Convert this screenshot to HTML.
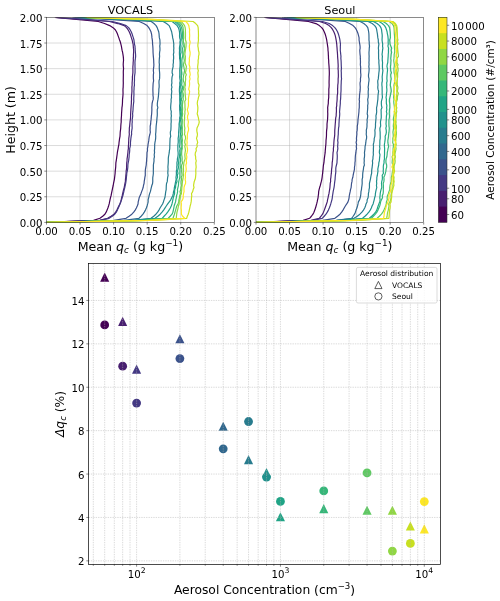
<!DOCTYPE html>
<html lang="en"><head><meta charset="utf-8"><title>Aerosol concentration figure</title>
<style>html,body{margin:0;padding:0;background:#fff}svg{display:block}text{white-space:pre}</style>
</head><body>
<svg width="500" height="601" viewBox="0 0 500 601" font-family='"DejaVu Sans", "Liberation Sans", sans-serif'>
<rect width="500" height="601" fill="#ffffff"/>
<path d="M80.06 17.40 V222.40 M113.62 17.40 V222.40 M147.18 17.40 V222.40 M180.74 17.40 V222.40 M46.50 43.02 H214.30 M46.50 68.65 H214.30 M46.50 94.28 H214.30 M46.50 119.90 H214.30 M46.50 145.53 H214.30 M46.50 171.15 H214.30 M46.50 196.78 H214.30" stroke="#b0b0b0" stroke-width="0.6" fill="none" opacity="0.75"/>
<clipPath id="clip1"><rect x="46.50" y="17.40" width="167.80" height="205.00"/></clipPath>
<g clip-path="url(#clip1)" fill="none" stroke-width="1.2" stroke-linejoin="round" stroke-linecap="butt">
<path d="M54.80 17.40 L76.54 19.45 L98.30 21.50 L104.57 23.55 L109.71 25.60 L113.05 27.65 L115.26 29.70 L116.47 31.75 L117.39 33.80 L118.11 35.85 L118.87 37.90 L119.58 39.95 L120.35 42.00 L120.88 44.05 L121.37 46.10 L121.71 48.15 L122.05 50.20 L122.59 52.25 L122.94 54.30 L123.26 56.35 L123.44 58.40 L123.52 60.45 L123.33 62.50 L123.21 64.55 L123.34 66.60 L123.56 68.65 L123.33 70.70 L123.30 72.75 L123.35 74.80 L123.31 76.85 L123.28 78.90 L123.24 80.95 L123.30 83.00 L123.23 85.05 L123.18 87.10 L122.99 89.15 L123.00 91.20 L123.06 93.25 L122.96 95.30 L122.78 97.35 L122.55 99.40 L122.50 101.45 L122.43 103.50 L122.27 105.55 L121.95 107.60 L121.83 109.65 L121.68 111.70 L121.54 113.75 L121.50 115.80 L121.30 117.85 L121.19 119.90 L121.20 121.95 L120.96 124.00 L120.81 126.05 L120.72 128.10 L120.49 130.15 L120.22 132.20 L120.12 134.25 L120.00 136.30 L119.59 138.35 L119.34 140.40 L119.05 142.45 L118.89 144.50 L118.41 146.55 L118.10 148.60 L117.68 150.65 L117.34 152.70 L117.09 154.75 L116.79 156.80 L116.52 158.85 L116.21 160.90 L115.87 162.95 L115.79 165.00 L115.72 167.05 L115.47 169.10 L115.22 171.15 L115.12 173.20 L114.89 175.25 L114.63 177.30 L114.40 179.35 L113.97 181.40 L113.54 183.45 L113.19 185.50 L112.69 187.55 L112.29 189.60 L111.88 191.65 L111.47 193.70 L111.03 195.75 L110.43 197.80 L110.01 199.85 L109.59 201.90 L109.17 203.95 L108.56 206.00 L107.87 208.05 L107.10 210.10 L106.13 212.15 L104.90 214.20 L102.66 216.25 L99.94 218.30 L93.58 220.35 L46.50 222.40" stroke="#440154"/>
<path d="M56.00 17.40 L83.31 19.45 L109.35 21.50 L117.98 23.55 L124.21 25.60 L126.56 27.65 L128.03 29.70 L129.21 31.75 L130.07 33.80 L130.81 35.85 L131.43 37.90 L132.14 39.95 L132.57 42.00 L133.10 44.05 L133.28 46.10 L133.43 48.15 L133.65 50.20 L133.66 52.25 L133.46 54.30 L133.48 56.35 L133.29 58.40 L133.35 60.45 L133.15 62.50 L133.09 64.55 L132.89 66.60 L132.86 68.65 L132.91 70.70 L132.89 72.75 L132.65 74.80 L132.39 76.85 L132.42 78.90 L132.25 80.95 L132.10 83.00 L132.13 85.05 L131.89 87.10 L131.94 89.15 L131.95 91.20 L131.80 93.25 L131.56 95.30 L131.45 97.35 L131.52 99.40 L131.38 101.45 L131.36 103.50 L131.17 105.55 L131.02 107.60 L130.89 109.65 L130.75 111.70 L130.64 113.75 L130.58 115.80 L130.53 117.85 L130.30 119.90 L130.02 121.95 L129.83 124.00 L129.64 126.05 L129.34 128.10 L129.34 130.15 L129.19 132.20 L129.33 134.25 L129.09 136.30 L128.79 138.35 L128.75 140.40 L128.61 142.45 L128.55 144.50 L128.37 146.55 L128.38 148.60 L128.04 150.65 L127.87 152.70 L127.62 154.75 L127.39 156.80 L127.06 158.85 L127.04 160.90 L126.71 162.95 L126.67 165.00 L126.60 167.05 L126.49 169.10 L126.14 171.15 L126.11 173.20 L125.85 175.25 L125.71 177.30 L125.44 179.35 L125.41 181.40 L124.96 183.45 L124.56 185.50 L124.19 187.55 L123.58 189.60 L123.12 191.65 L122.65 193.70 L122.20 195.75 L121.61 197.80 L121.21 199.85 L120.66 201.90 L119.90 203.95 L118.78 206.00 L117.85 208.05 L116.88 210.10 L115.66 212.15 L114.00 214.20 L111.04 216.25 L107.56 218.30 L99.52 220.35 L46.50 222.40" stroke="#481f70"/>
<path d="M57.00 17.40 L85.96 19.45 L112.38 21.50 L120.42 23.55 L126.22 25.60 L128.63 27.65 L130.09 29.70 L131.22 31.75 L132.03 33.80 L132.70 35.85 L133.38 37.90 L133.95 39.95 L134.22 42.00 L134.47 44.05 L135.00 46.10 L135.08 48.15 L135.22 50.20 L135.38 52.25 L135.55 54.30 L135.62 56.35 L135.40 58.40 L135.12 60.45 L134.95 62.50 L135.01 64.55 L134.99 66.60 L135.08 68.65 L135.06 70.70 L135.05 72.75 L134.73 74.80 L134.49 76.85 L134.47 78.90 L134.49 80.95 L134.30 83.00 L134.44 85.05 L134.08 87.10 L134.05 89.15 L133.88 91.20 L133.93 93.25 L133.93 95.30 L133.78 97.35 L133.74 99.40 L133.81 101.45 L133.54 103.50 L133.32 105.55 L133.12 107.60 L133.04 109.65 L132.85 111.70 L132.59 113.75 L132.72 115.80 L132.48 117.85 L132.14 119.90 L132.26 121.95 L132.04 124.00 L132.09 126.05 L132.14 128.10 L131.82 130.15 L131.54 132.20 L131.62 134.25 L131.18 136.30 L130.90 138.35 L130.68 140.40 L130.45 142.45 L130.48 144.50 L130.20 146.55 L129.68 148.60 L129.71 150.65 L129.50 152.70 L129.16 154.75 L129.12 156.80 L128.87 158.85 L128.60 160.90 L128.15 162.95 L127.88 165.00 L127.85 167.05 L127.61 169.10 L127.26 171.15 L126.79 173.20 L126.65 175.25 L126.41 177.30 L126.25 179.35 L125.96 181.40 L125.66 183.45 L125.20 185.50 L124.79 187.55 L124.24 189.60 L123.82 191.65 L123.35 193.70 L122.84 195.75 L122.12 197.80 L121.56 199.85 L120.82 201.90 L119.91 203.95 L119.18 206.00 L118.31 208.05 L117.33 210.10 L116.26 212.15 L114.76 214.20 L112.18 216.25 L109.07 218.30 L100.15 220.35 L46.50 222.40" stroke="#443983"/>
<path d="M72.50 17.40 L108.18 19.45 L139.25 21.50 L143.70 23.55 L147.10 25.60 L148.78 27.65 L150.01 29.70 L150.97 31.75 L151.51 33.80 L151.80 35.85 L151.98 37.90 L152.32 39.95 L152.52 42.00 L152.57 44.05 L152.79 46.10 L152.92 48.15 L153.01 50.20 L153.05 52.25 L153.17 54.30 L153.34 56.35 L153.54 58.40 L153.69 60.45 L153.74 62.50 L153.87 64.55 L153.78 66.60 L153.50 68.65 L153.34 70.70 L153.63 72.75 L153.37 74.80 L153.34 76.85 L153.43 78.90 L153.61 80.95 L153.18 83.00 L153.04 85.05 L152.96 87.10 L152.88 89.15 L152.91 91.20 L153.01 93.25 L152.98 95.30 L153.27 97.35 L153.18 99.40 L152.57 101.45 L152.11 103.50 L151.97 105.55 L151.81 107.60 L151.88 109.65 L151.77 111.70 L151.67 113.75 L151.39 115.80 L151.23 117.85 L151.04 119.90 L150.76 121.95 L150.65 124.00 L150.17 126.05 L150.21 128.10 L150.10 130.15 L150.35 132.20 L149.92 134.25 L149.31 136.30 L149.00 138.35 L148.77 140.40 L148.43 142.45 L148.04 144.50 L147.83 146.55 L147.42 148.60 L147.50 150.65 L146.99 152.70 L146.94 154.75 L146.88 156.80 L146.67 158.85 L146.62 160.90 L146.36 162.95 L146.23 165.00 L145.82 167.05 L145.46 169.10 L145.30 171.15 L145.26 173.20 L145.30 175.25 L144.86 177.30 L144.58 179.35 L144.23 181.40 L144.07 183.45 L143.48 185.50 L143.14 187.55 L142.42 189.60 L141.64 191.65 L140.90 193.70 L140.04 195.75 L139.15 197.80 L138.73 199.85 L138.19 201.90 L138.04 203.95 L137.23 206.00 L136.35 208.05 L135.18 210.10 L133.71 212.15 L131.84 214.20 L129.06 216.25 L126.01 218.30 L113.88 220.35 L46.50 222.40" stroke="#3b528b"/>
<path d="M74.50 17.40 L116.39 19.45 L151.24 21.50 L153.94 23.55 L156.09 25.60 L157.21 27.65 L157.97 29.70 L158.71 31.75 L159.05 33.80 L159.18 35.85 L159.37 37.90 L159.90 39.95 L159.99 42.00 L160.04 44.05 L159.75 46.10 L159.94 48.15 L159.97 50.20 L159.62 52.25 L159.47 54.30 L159.61 56.35 L159.38 58.40 L159.25 60.45 L159.16 62.50 L159.40 64.55 L159.27 66.60 L159.29 68.65 L159.43 70.70 L159.62 72.75 L159.70 74.80 L159.66 76.85 L159.57 78.90 L159.02 80.95 L159.00 83.00 L159.14 85.05 L159.14 87.10 L158.85 89.15 L158.83 91.20 L158.63 93.25 L158.50 95.30 L158.28 97.35 L157.97 99.40 L157.59 101.45 L157.34 103.50 L157.31 105.55 L157.86 107.60 L157.25 109.65 L157.25 111.70 L157.30 113.75 L157.24 115.80 L157.00 117.85 L156.83 119.90 L156.68 121.95 L156.40 124.00 L156.17 126.05 L156.05 128.10 L155.94 130.15 L155.86 132.20 L155.58 134.25 L155.73 136.30 L155.65 138.35 L155.38 140.40 L154.97 142.45 L154.70 144.50 L154.66 146.55 L154.62 148.60 L154.41 150.65 L154.57 152.70 L154.20 154.75 L154.43 156.80 L153.95 158.85 L154.04 160.90 L153.73 162.95 L153.38 165.00 L153.40 167.05 L153.37 169.10 L153.32 171.15 L153.36 173.20 L153.15 175.25 L152.81 177.30 L152.74 179.35 L152.78 181.40 L152.57 183.45 L151.83 185.50 L151.30 187.55 L150.84 189.60 L150.38 191.65 L149.57 193.70 L149.14 195.75 L148.64 197.80 L148.12 199.85 L148.16 201.90 L147.66 203.95 L147.06 206.00 L146.36 208.05 L145.41 210.10 L144.31 212.15 L142.98 214.20 L141.13 216.25 L139.04 218.30 L123.89 220.35 L46.50 222.40" stroke="#31688e"/>
<path d="M77.50 17.40 L125.32 19.45 L163.19 21.50 L166.52 23.55 L169.10 25.60 L170.11 27.65 L170.91 29.70 L171.64 31.75 L172.03 33.80 L172.44 35.85 L172.69 37.90 L173.21 39.95 L173.52 42.00 L173.80 44.05 L173.69 46.10 L173.84 48.15 L173.66 50.20 L173.84 52.25 L173.39 54.30 L173.60 56.35 L173.66 58.40 L173.36 60.45 L173.44 62.50 L173.06 64.55 L173.14 66.60 L172.63 68.65 L172.22 70.70 L172.11 72.75 L172.79 74.80 L172.07 76.85 L171.89 78.90 L171.76 80.95 L171.90 83.00 L171.46 85.05 L171.95 87.10 L171.38 89.15 L171.78 91.20 L171.60 93.25 L171.32 95.30 L171.52 97.35 L171.08 99.40 L171.16 101.45 L170.92 103.50 L170.75 105.55 L170.64 107.60 L170.82 109.65 L171.31 111.70 L171.13 113.75 L171.39 115.80 L171.08 117.85 L171.18 119.90 L171.21 121.95 L171.00 124.00 L171.05 126.05 L170.96 128.10 L170.88 130.15 L170.33 132.20 L170.39 134.25 L170.72 136.30 L170.05 138.35 L169.99 140.40 L169.91 142.45 L169.85 144.50 L169.80 146.55 L169.76 148.60 L169.40 150.65 L169.23 152.70 L168.86 154.75 L168.45 156.80 L168.29 158.85 L168.31 160.90 L168.24 162.95 L168.07 165.00 L167.90 167.05 L168.06 169.10 L167.90 171.15 L167.79 173.20 L168.12 175.25 L167.67 177.30 L167.44 179.35 L167.31 181.40 L166.54 183.45 L166.32 185.50 L166.23 187.55 L166.18 189.60 L165.74 191.65 L165.47 193.70 L165.19 195.75 L164.84 197.80 L164.04 199.85 L163.41 201.90 L162.57 203.95 L161.30 206.00 L160.03 208.05 L158.93 210.10 L157.63 212.15 L155.90 214.20 L153.72 216.25 L150.98 218.30 L132.80 220.35 L46.50 222.40" stroke="#287c8e"/>
<path d="M79.50 17.40 L132.30 19.45 L172.08 21.50 L174.72 23.55 L177.14 25.60 L178.35 27.65 L179.07 29.70 L179.44 31.75 L179.65 33.80 L179.53 35.85 L179.67 37.90 L180.32 39.95 L179.90 42.00 L180.04 44.05 L179.71 46.10 L179.42 48.15 L179.55 50.20 L179.44 52.25 L179.45 54.30 L179.60 56.35 L179.63 58.40 L179.98 60.45 L180.11 62.50 L180.09 64.55 L180.04 66.60 L179.80 68.65 L179.74 70.70 L179.79 72.75 L179.78 74.80 L179.67 76.85 L179.88 78.90 L180.21 80.95 L179.73 83.00 L179.84 85.05 L179.57 87.10 L179.43 89.15 L179.40 91.20 L179.57 93.25 L179.69 95.30 L179.79 97.35 L179.71 99.40 L179.86 101.45 L179.85 103.50 L179.59 105.55 L179.66 107.60 L179.70 109.65 L179.88 111.70 L180.00 113.75 L180.12 115.80 L179.65 117.85 L179.77 119.90 L179.43 121.95 L179.07 124.00 L179.14 126.05 L178.99 128.10 L178.83 130.15 L178.63 132.20 L178.68 134.25 L178.48 136.30 L178.12 138.35 L178.23 140.40 L178.22 142.45 L177.94 144.50 L177.84 146.55 L177.86 148.60 L177.89 150.65 L178.13 152.70 L178.13 154.75 L177.84 156.80 L177.39 158.85 L177.29 160.90 L176.91 162.95 L177.00 165.00 L176.76 167.05 L176.89 169.10 L176.33 171.15 L176.40 173.20 L176.33 175.25 L175.95 177.30 L176.16 179.35 L175.68 181.40 L175.26 183.45 L174.92 185.50 L174.36 187.55 L174.18 189.60 L173.56 191.65 L173.26 193.70 L172.73 195.75 L171.68 197.80 L170.75 199.85 L169.25 201.90 L167.72 203.95 L166.28 206.00 L164.91 208.05 L163.60 210.10 L162.03 212.15 L160.21 214.20 L157.84 216.25 L155.03 218.30 L134.93 220.35 L46.50 222.40" stroke="#21918c"/>
<path d="M81.50 17.40 L135.66 19.45 L174.61 21.50 L177.26 23.55 L179.24 25.60 L180.06 27.65 L180.50 29.70 L180.86 31.75 L181.19 33.80 L181.35 35.85 L181.21 37.90 L181.21 39.95 L180.77 42.00 L180.62 44.05 L180.96 46.10 L180.85 48.15 L180.84 50.20 L181.07 52.25 L180.51 54.30 L180.38 56.35 L180.61 58.40 L180.62 60.45 L180.69 62.50 L180.90 64.55 L181.11 66.60 L181.34 68.65 L181.33 70.70 L181.38 72.75 L181.24 74.80 L181.43 76.85 L181.38 78.90 L181.06 80.95 L180.81 83.00 L180.69 85.05 L180.74 87.10 L181.04 89.15 L181.09 91.20 L180.50 93.25 L180.59 95.30 L180.13 97.35 L180.39 99.40 L180.34 101.45 L180.57 103.50 L181.02 105.55 L180.55 107.60 L180.33 109.65 L180.90 111.70 L180.55 113.75 L181.02 115.80 L180.81 117.85 L180.54 119.90 L180.11 121.95 L179.80 124.00 L180.11 126.05 L180.51 128.10 L180.26 130.15 L180.19 132.20 L180.50 134.25 L180.16 136.30 L179.96 138.35 L179.77 140.40 L179.89 142.45 L179.88 144.50 L179.45 146.55 L180.20 148.60 L179.68 150.65 L179.87 152.70 L179.67 154.75 L179.45 156.80 L178.93 158.85 L178.75 160.90 L178.59 162.95 L178.14 165.00 L178.55 167.05 L178.07 169.10 L177.44 171.15 L178.00 173.20 L177.36 175.25 L177.57 177.30 L176.70 179.35 L177.01 181.40 L176.17 183.45 L175.66 185.50 L175.57 187.55 L174.71 189.60 L174.60 191.65 L174.57 193.70 L173.88 195.75 L173.23 197.80 L172.84 199.85 L172.45 201.90 L171.97 203.95 L171.22 206.00 L170.30 208.05 L169.00 210.10 L167.64 212.15 L166.07 214.20 L164.05 216.25 L162.16 218.30 L139.38 220.35 L46.50 222.40" stroke="#20a486"/>
<path d="M82.50 17.40 L138.33 19.45 L176.71 21.50 L179.03 23.55 L180.73 25.60 L181.53 27.65 L182.03 29.70 L182.36 31.75 L182.50 33.80 L182.49 35.85 L182.50 37.90 L183.17 39.95 L182.93 42.00 L182.89 44.05 L183.28 46.10 L182.61 48.15 L182.71 50.20 L182.72 52.25 L182.85 54.30 L182.61 56.35 L182.15 58.40 L181.86 60.45 L181.95 62.50 L181.98 64.55 L181.98 66.60 L181.52 68.65 L181.52 70.70 L181.87 72.75 L181.83 74.80 L181.06 76.85 L181.68 78.90 L181.78 80.95 L181.93 83.00 L181.64 85.05 L182.62 87.10 L182.33 89.15 L181.56 91.20 L181.81 93.25 L182.00 95.30 L181.90 97.35 L181.32 99.40 L181.98 101.45 L181.99 103.50 L182.29 105.55 L181.93 107.60 L181.70 109.65 L181.80 111.70 L181.62 113.75 L181.38 115.80 L181.31 117.85 L182.01 119.90 L181.98 121.95 L182.01 124.00 L181.29 126.05 L181.56 128.10 L181.92 130.15 L182.06 132.20 L182.24 134.25 L181.44 136.30 L181.00 138.35 L181.28 140.40 L181.45 142.45 L181.97 144.50 L181.92 146.55 L181.46 148.60 L181.11 150.65 L180.98 152.70 L180.55 154.75 L180.14 156.80 L180.60 158.85 L180.48 160.90 L180.05 162.95 L179.99 165.00 L180.26 167.05 L179.90 169.10 L179.87 171.15 L179.82 173.20 L179.85 175.25 L179.83 177.30 L179.24 179.35 L178.79 181.40 L178.52 183.45 L178.44 185.50 L177.91 187.55 L177.44 189.60 L177.61 191.65 L177.20 193.70 L176.58 195.75 L176.32 197.80 L175.83 199.85 L175.56 201.90 L174.79 203.95 L174.16 206.00 L173.80 208.05 L173.36 210.10 L172.89 212.15 L172.04 214.20 L170.14 216.25 L168.15 218.30 L142.89 220.35 L46.50 222.40" stroke="#35b779"/>
<path d="M84.50 17.40 L141.43 19.45 L178.58 21.50 L181.02 23.55 L182.55 25.60 L183.08 27.65 L183.16 29.70 L183.53 31.75 L183.60 33.80 L183.63 35.85 L183.72 37.90 L183.29 39.95 L183.39 42.00 L184.17 44.05 L184.35 46.10 L184.71 48.15 L184.63 50.20 L183.99 52.25 L183.76 54.30 L183.72 56.35 L183.97 58.40 L184.35 60.45 L184.01 62.50 L183.40 64.55 L183.83 66.60 L184.15 68.65 L184.59 70.70 L184.14 72.75 L183.72 74.80 L183.33 76.85 L183.23 78.90 L183.42 80.95 L184.27 83.00 L184.15 85.05 L183.58 87.10 L183.69 89.15 L182.60 91.20 L182.97 93.25 L183.52 95.30 L183.13 97.35 L183.24 99.40 L182.80 101.45 L182.57 103.50 L182.29 105.55 L182.52 107.60 L182.61 109.65 L182.31 111.70 L182.64 113.75 L182.36 115.80 L181.86 117.85 L182.30 119.90 L182.13 121.95 L181.78 124.00 L182.21 126.05 L182.38 128.10 L182.15 130.15 L181.94 132.20 L182.44 134.25 L181.96 136.30 L182.17 138.35 L182.47 140.40 L182.15 142.45 L182.03 144.50 L182.03 146.55 L182.31 148.60 L181.80 150.65 L181.70 152.70 L181.68 154.75 L182.05 156.80 L182.17 158.85 L182.04 160.90 L182.54 162.95 L181.68 165.00 L181.41 167.05 L181.76 169.10 L181.58 171.15 L181.86 173.20 L182.12 175.25 L181.23 177.30 L181.49 179.35 L181.09 181.40 L181.10 183.45 L181.48 185.50 L180.90 187.55 L180.78 189.60 L179.93 191.65 L180.42 193.70 L179.69 195.75 L179.41 197.80 L178.91 199.85 L178.75 201.90 L177.96 203.95 L176.74 206.00 L176.15 208.05 L175.61 210.10 L175.01 212.15 L174.46 214.20 L173.65 216.25 L173.02 218.30 L145.49 220.35 L46.50 222.40" stroke="#5ec962"/>
<path d="M85.50 17.40 L144.45 19.45 L181.18 21.50 L183.11 23.55 L184.58 25.60 L185.17 27.65 L185.39 29.70 L185.45 31.75 L185.45 33.80 L185.48 35.85 L185.43 37.90 L185.48 39.95 L186.16 42.00 L186.09 44.05 L186.06 46.10 L185.76 48.15 L185.40 50.20 L185.15 52.25 L184.90 54.30 L185.40 56.35 L185.32 58.40 L185.19 60.45 L185.07 62.50 L185.61 64.55 L186.44 66.60 L186.07 68.65 L185.95 70.70 L185.42 72.75 L186.33 74.80 L185.48 76.85 L185.69 78.90 L185.47 80.95 L185.27 83.00 L185.49 85.05 L184.80 87.10 L185.26 89.15 L184.99 91.20 L185.15 93.25 L185.31 95.30 L185.47 97.35 L185.76 99.40 L184.74 101.45 L184.92 103.50 L184.97 105.55 L184.98 107.60 L185.19 109.65 L184.86 111.70 L184.94 113.75 L184.52 115.80 L184.67 117.85 L184.42 119.90 L184.23 121.95 L184.31 124.00 L184.44 126.05 L184.87 128.10 L184.62 130.15 L184.80 132.20 L184.45 134.25 L185.39 136.30 L185.61 138.35 L184.91 140.40 L184.71 142.45 L185.37 144.50 L184.76 146.55 L185.25 148.60 L185.41 150.65 L185.05 152.70 L184.82 154.75 L184.96 156.80 L185.17 158.85 L184.32 160.90 L183.85 162.95 L183.70 165.00 L183.35 167.05 L183.48 169.10 L183.40 171.15 L183.24 173.20 L183.49 175.25 L183.17 177.30 L182.83 179.35 L182.49 181.40 L182.24 183.45 L182.13 185.50 L181.84 187.55 L181.72 189.60 L181.52 191.65 L181.36 193.70 L180.38 195.75 L180.20 197.80 L179.79 199.85 L179.16 201.90 L179.16 203.95 L178.41 206.00 L178.05 208.05 L177.57 210.10 L176.99 212.15 L176.68 214.20 L176.46 216.25 L176.25 218.30 L146.51 220.35 L46.50 222.40" stroke="#90d743"/>
<path d="M86.50 17.40 L153.49 19.45 L193.15 21.50 L195.70 23.55 L197.63 25.60 L198.17 27.65 L198.28 29.70 L198.42 31.75 L198.45 33.80 L198.49 35.85 L198.37 37.90 L198.48 39.95 L198.24 42.00 L197.93 44.05 L197.86 46.10 L198.26 48.15 L198.39 50.20 L198.96 52.25 L198.99 54.30 L198.50 56.35 L198.52 58.40 L198.09 60.45 L198.17 62.50 L197.91 64.55 L197.67 66.60 L197.71 68.65 L198.36 70.70 L197.81 72.75 L198.09 74.80 L198.23 76.85 L197.94 78.90 L198.09 80.95 L198.18 83.00 L199.11 85.05 L198.78 87.10 L198.48 89.15 L198.87 91.20 L198.63 93.25 L199.18 95.30 L198.47 97.35 L198.08 99.40 L197.47 101.45 L197.25 103.50 L197.61 105.55 L197.88 107.60 L197.78 109.65 L197.61 111.70 L197.19 113.75 L197.86 115.80 L198.44 117.85 L198.73 119.90 L199.28 121.95 L198.75 124.00 L197.96 126.05 L197.00 128.10 L196.78 130.15 L197.00 132.20 L197.47 134.25 L197.19 136.30 L196.50 138.35 L197.17 140.40 L197.69 142.45 L196.93 144.50 L197.23 146.55 L196.02 148.60 L196.30 150.65 L195.36 152.70 L195.17 154.75 L195.66 156.80 L195.66 158.85 L196.27 160.90 L195.75 162.95 L195.97 165.00 L196.17 167.05 L195.84 169.10 L195.75 171.15 L195.89 173.20 L195.72 175.25 L195.54 177.30 L195.16 179.35 L194.28 181.40 L193.90 183.45 L193.54 185.50 L194.04 187.55 L193.17 189.60 L192.66 191.65 L191.46 193.70 L191.79 195.75 L191.46 197.80 L191.38 199.85 L191.13 201.90 L190.73 203.95 L190.16 206.00 L189.73 208.05 L189.29 210.10 L188.86 212.15 L188.21 214.20 L187.33 216.25 L186.68 218.30 L153.09 220.35 L46.50 222.40" stroke="#c8e020"/>
<path d="M87.00 17.40 L150.41 19.45 L185.89 21.50 L187.75 23.55 L188.83 25.60 L189.19 27.65 L189.62 29.70 L189.49 31.75 L189.58 33.80 L189.66 35.85 L189.51 37.90 L189.54 39.95 L190.20 42.00 L189.79 44.05 L189.32 46.10 L189.48 48.15 L189.58 50.20 L190.11 52.25 L190.09 54.30 L189.74 56.35 L189.27 58.40 L189.46 60.45 L189.21 62.50 L189.10 64.55 L189.80 66.60 L189.89 68.65 L189.48 70.70 L190.00 72.75 L190.20 74.80 L189.54 76.85 L190.08 78.90 L189.36 80.95 L189.59 83.00 L189.54 85.05 L189.13 87.10 L188.71 89.15 L189.61 91.20 L189.39 93.25 L188.95 95.30 L188.56 97.35 L188.42 99.40 L188.52 101.45 L188.38 103.50 L188.42 105.55 L187.98 107.60 L187.34 109.65 L187.86 111.70 L188.39 113.75 L187.61 115.80 L187.48 117.85 L187.97 119.90 L188.40 121.95 L188.07 124.00 L187.88 126.05 L188.53 128.10 L188.55 130.15 L187.85 132.20 L187.42 134.25 L187.32 136.30 L187.36 138.35 L186.92 140.40 L187.16 142.45 L186.95 144.50 L187.02 146.55 L187.50 148.60 L187.50 150.65 L187.05 152.70 L186.36 154.75 L186.86 156.80 L186.60 158.85 L186.28 160.90 L186.57 162.95 L185.87 165.00 L186.02 167.05 L186.22 169.10 L186.05 171.15 L185.42 173.20 L185.30 175.25 L185.50 177.30 L185.12 179.35 L185.58 181.40 L185.53 183.45 L184.57 185.50 L184.01 187.55 L183.98 189.60 L184.07 191.65 L183.52 193.70 L183.24 195.75 L183.22 197.80 L182.55 199.85 L181.01 201.90 L181.38 203.95 L181.26 206.00 L181.10 208.05 L181.40 210.10 L181.36 212.15 L181.39 214.20 L182.63 216.25 L184.69 218.30 L150.07 220.35 L46.50 222.40" stroke="#fde725"/>
</g>
<path d="M46.50 222.40 v2.2 M80.06 222.40 v2.2 M113.62 222.40 v2.2 M147.18 222.40 v2.2 M180.74 222.40 v2.2 M214.30 222.40 v2.2 M46.50 17.40 h-2.2 M46.50 43.02 h-2.2 M46.50 68.65 h-2.2 M46.50 94.28 h-2.2 M46.50 119.90 h-2.2 M46.50 145.53 h-2.2 M46.50 171.15 h-2.2 M46.50 196.78 h-2.2 M46.50 222.40 h-2.2" stroke="#2b2b2b" stroke-width="0.55" fill="none"/>
<rect x="46.50" y="17.40" width="167.80" height="205.00" fill="none" stroke="#2b2b2b" stroke-width="0.55"/>
<text x="46.50" y="234.70" font-size="10.20" text-anchor="middle" fill="#000000">0.00</text>
<text x="80.06" y="234.70" font-size="10.20" text-anchor="middle" fill="#000000">0.05</text>
<text x="113.62" y="234.70" font-size="10.20" text-anchor="middle" fill="#000000">0.10</text>
<text x="147.18" y="234.70" font-size="10.20" text-anchor="middle" fill="#000000">0.15</text>
<text x="180.74" y="234.70" font-size="10.20" text-anchor="middle" fill="#000000">0.20</text>
<text x="214.30" y="234.70" font-size="10.20" text-anchor="middle" fill="#000000">0.25</text>
<text x="42.50" y="21.90" font-size="10.20" text-anchor="end" fill="#000000">2.00</text>
<text x="42.50" y="47.52" font-size="10.20" text-anchor="end" fill="#000000">1.75</text>
<text x="42.50" y="73.15" font-size="10.20" text-anchor="end" fill="#000000">1.50</text>
<text x="42.50" y="98.78" font-size="10.20" text-anchor="end" fill="#000000">1.25</text>
<text x="42.50" y="124.40" font-size="10.20" text-anchor="end" fill="#000000">1.00</text>
<text x="42.50" y="150.03" font-size="10.20" text-anchor="end" fill="#000000">0.75</text>
<text x="42.50" y="175.65" font-size="10.20" text-anchor="end" fill="#000000">0.50</text>
<text x="42.50" y="201.28" font-size="10.20" text-anchor="end" fill="#000000">0.25</text>
<text x="42.50" y="226.90" font-size="10.20" text-anchor="end" fill="#000000">0.00</text>
<text x="130.40" y="13.80" font-size="11.25" text-anchor="middle" fill="#000000">VOCALS</text>
<text x="130.40" y="250.80" font-size="12.60" text-anchor="middle" fill="#000000">Mean <tspan font-style="italic">q</tspan><tspan font-style="italic" font-size="8.82" dy="2.0">c</tspan><tspan dy="-2.0"> (g kg</tspan><tspan font-size="8.82" dy="-4.8">−1</tspan><tspan dy="4.8">)</tspan></text>
<path d="M289.54 17.40 V222.40 M323.08 17.40 V222.40 M356.62 17.40 V222.40 M390.16 17.40 V222.40 M256.00 43.02 H423.70 M256.00 68.65 H423.70 M256.00 94.28 H423.70 M256.00 119.90 H423.70 M256.00 145.53 H423.70 M256.00 171.15 H423.70 M256.00 196.78 H423.70" stroke="#b0b0b0" stroke-width="0.6" fill="none" opacity="0.75"/>
<clipPath id="clip2"><rect x="256.00" y="17.40" width="167.70" height="205.00"/></clipPath>
<g clip-path="url(#clip2)" fill="none" stroke-width="1.2" stroke-linejoin="round" stroke-linecap="butt">
<path d="M264.30 17.40 L286.34 19.45 L308.40 21.50 L315.91 23.55 L319.32 25.60 L321.70 27.65 L323.25 29.70 L324.21 31.75 L325.05 33.80 L325.71 35.85 L326.24 37.90 L326.69 39.95 L327.00 42.00 L327.37 44.05 L327.63 46.10 L327.94 48.15 L328.00 50.20 L328.24 52.25 L328.30 54.30 L328.45 56.35 L328.47 58.40 L328.70 60.45 L328.72 62.50 L328.90 64.55 L329.06 66.60 L329.18 68.65 L329.27 70.70 L329.32 72.75 L329.31 74.80 L329.19 76.85 L329.17 78.90 L329.09 80.95 L329.07 83.00 L329.14 85.05 L329.06 87.10 L328.82 89.15 L328.84 91.20 L328.83 93.25 L328.72 95.30 L328.74 97.35 L328.47 99.40 L328.32 101.45 L328.29 103.50 L327.95 105.55 L327.67 107.60 L327.76 109.65 L327.68 111.70 L327.78 113.75 L327.73 115.80 L327.63 117.85 L327.52 119.90 L327.26 121.95 L327.02 124.00 L327.03 126.05 L326.93 128.10 L326.65 130.15 L326.50 132.20 L326.49 134.25 L326.44 136.30 L326.25 138.35 L326.02 140.40 L325.97 142.45 L325.85 144.50 L325.62 146.55 L325.45 148.60 L325.26 150.65 L325.15 152.70 L324.85 154.75 L324.56 156.80 L324.28 158.85 L324.10 160.90 L323.90 162.95 L323.45 165.00 L323.24 167.05 L323.07 169.10 L322.81 171.15 L322.64 173.20 L322.35 175.25 L322.13 177.30 L321.79 179.35 L321.33 181.40 L320.82 183.45 L320.29 185.50 L319.64 187.55 L319.08 189.60 L318.67 191.65 L318.57 193.70 L318.28 195.75 L318.03 197.80 L317.56 199.85 L317.15 201.90 L316.65 203.95 L316.07 206.00 L315.48 208.05 L314.80 210.10 L313.95 212.15 L312.95 214.20 L311.40 216.25 L309.58 218.30 L303.17 220.35 L256.00 222.40" stroke="#440154"/>
<path d="M265.50 17.40 L293.06 19.45 L319.39 21.50 L325.64 23.55 L329.11 25.60 L331.27 27.65 L332.71 29.70 L333.81 31.75 L334.66 33.80 L335.33 35.85 L335.74 37.90 L336.12 39.95 L336.45 42.00 L336.73 44.05 L336.87 46.10 L337.06 48.15 L337.18 50.20 L337.37 52.25 L337.52 54.30 L337.60 56.35 L337.74 58.40 L337.95 60.45 L338.02 62.50 L338.15 64.55 L338.18 66.60 L338.04 68.65 L338.26 70.70 L338.26 72.75 L338.36 74.80 L338.34 76.85 L338.12 78.90 L338.14 80.95 L338.07 83.00 L337.78 85.05 L337.73 87.10 L337.60 89.15 L337.68 91.20 L337.65 93.25 L337.27 95.30 L337.16 97.35 L337.14 99.40 L336.97 101.45 L336.72 103.50 L336.74 105.55 L336.35 107.60 L336.44 109.65 L336.41 111.70 L336.22 113.75 L336.18 115.80 L335.73 117.85 L335.53 119.90 L335.43 121.95 L335.24 124.00 L335.09 126.05 L334.96 128.10 L334.77 130.15 L334.74 132.20 L334.75 134.25 L334.58 136.30 L334.28 138.35 L334.04 140.40 L333.87 142.45 L333.77 144.50 L333.65 146.55 L333.36 148.60 L333.42 150.65 L333.05 152.70 L332.92 154.75 L332.82 156.80 L332.65 158.85 L332.46 160.90 L332.17 162.95 L332.12 165.00 L331.93 167.05 L331.62 169.10 L331.48 171.15 L331.37 173.20 L331.07 175.25 L330.90 177.30 L330.56 179.35 L330.65 181.40 L330.21 183.45 L330.06 185.50 L329.91 187.55 L329.61 189.60 L329.28 191.65 L328.96 193.70 L328.44 195.75 L328.04 197.80 L327.55 199.85 L327.21 201.90 L326.50 203.95 L325.78 206.00 L325.07 208.05 L324.31 210.10 L323.52 212.15 L322.51 214.20 L320.98 216.25 L319.24 218.30 L310.93 220.35 L256.00 222.40" stroke="#481f70"/>
<path d="M266.50 17.40 L295.76 19.45 L322.42 21.50 L329.20 23.55 L332.60 25.60 L334.82 27.65 L336.39 29.70 L337.53 31.75 L338.31 33.80 L338.96 35.85 L339.48 37.90 L339.90 39.95 L340.18 42.00 L340.47 44.05 L340.33 46.10 L340.33 48.15 L340.28 50.20 L340.52 52.25 L340.71 54.30 L340.96 56.35 L340.86 58.40 L341.09 60.45 L341.18 62.50 L341.23 64.55 L341.31 66.60 L341.46 68.65 L341.18 70.70 L341.32 72.75 L341.33 74.80 L341.37 76.85 L341.55 78.90 L341.25 80.95 L341.21 83.00 L341.11 85.05 L341.05 87.10 L341.06 89.15 L341.00 91.20 L340.83 93.25 L340.78 95.30 L340.70 97.35 L340.56 99.40 L340.32 101.45 L340.32 103.50 L340.14 105.55 L339.93 107.60 L339.74 109.65 L339.56 111.70 L339.74 113.75 L339.63 115.80 L339.40 117.85 L339.19 119.90 L339.08 121.95 L338.96 124.00 L338.93 126.05 L338.55 128.10 L338.44 130.15 L338.30 132.20 L338.29 134.25 L338.06 136.30 L337.95 138.35 L337.67 140.40 L337.97 142.45 L337.78 144.50 L337.63 146.55 L337.85 148.60 L337.49 150.65 L337.02 152.70 L337.22 154.75 L337.28 156.80 L337.20 158.85 L337.04 160.90 L336.98 162.95 L336.48 165.00 L335.94 167.05 L335.78 169.10 L335.84 171.15 L335.67 173.20 L335.38 175.25 L335.20 177.30 L335.09 179.35 L334.79 181.40 L334.52 183.45 L334.34 185.50 L334.01 187.55 L333.58 189.60 L333.16 191.65 L332.86 193.70 L332.52 195.75 L332.29 197.80 L331.90 199.85 L331.33 201.90 L330.72 203.95 L330.04 206.00 L329.29 208.05 L328.41 210.10 L327.27 212.15 L325.98 214.20 L324.20 216.25 L322.19 218.30 L312.82 220.35 L256.00 222.40" stroke="#443983"/>
<path d="M282.00 17.40 L315.82 19.45 L345.30 21.50 L349.56 23.55 L353.09 25.60 L355.05 27.65 L356.40 29.70 L357.30 31.75 L358.07 33.80 L358.62 35.85 L359.09 37.90 L359.06 39.95 L359.39 42.00 L359.76 44.05 L360.04 46.10 L360.13 48.15 L359.79 50.20 L359.89 52.25 L360.04 54.30 L360.31 56.35 L360.29 58.40 L360.44 60.45 L360.46 62.50 L360.34 64.55 L360.60 66.60 L360.66 68.65 L360.59 70.70 L360.66 72.75 L360.89 74.80 L360.73 76.85 L360.42 78.90 L360.52 80.95 L360.05 83.00 L360.11 85.05 L360.27 87.10 L360.20 89.15 L360.08 91.20 L359.77 93.25 L359.51 95.30 L359.49 97.35 L359.19 99.40 L359.47 101.45 L359.26 103.50 L359.30 105.55 L359.27 107.60 L358.99 109.65 L358.94 111.70 L358.73 113.75 L358.50 115.80 L358.24 117.85 L357.97 119.90 L357.89 121.95 L357.69 124.00 L357.29 126.05 L357.29 128.10 L357.17 130.15 L356.80 132.20 L356.88 134.25 L356.65 136.30 L356.44 138.35 L356.57 140.40 L356.09 142.45 L356.61 144.50 L356.25 146.55 L356.56 148.60 L356.04 150.65 L355.86 152.70 L355.50 154.75 L355.32 156.80 L355.21 158.85 L355.22 160.90 L354.92 162.95 L354.90 165.00 L354.48 167.05 L354.49 169.10 L354.06 171.15 L353.58 173.20 L353.14 175.25 L352.85 177.30 L352.14 179.35 L352.00 181.40 L351.53 183.45 L351.33 185.50 L351.12 187.55 L350.51 189.60 L350.17 191.65 L349.72 193.70 L349.29 195.75 L349.08 197.80 L348.64 199.85 L347.98 201.90 L346.72 203.95 L345.32 206.00 L344.18 208.05 L342.99 210.10 L341.66 212.15 L340.01 214.20 L337.52 216.25 L334.89 218.30 L322.78 220.35 L256.00 222.40" stroke="#3b528b"/>
<path d="M284.00 17.40 L325.65 19.45 L360.16 21.50 L363.80 23.55 L366.34 25.60 L367.78 27.65 L368.24 29.70 L368.64 31.75 L368.88 33.80 L368.95 35.85 L368.99 37.90 L368.96 39.95 L369.23 42.00 L369.25 44.05 L369.52 46.10 L369.26 48.15 L369.18 50.20 L368.99 52.25 L369.01 54.30 L369.12 56.35 L369.04 58.40 L369.09 60.45 L368.93 62.50 L369.07 64.55 L368.82 66.60 L369.12 68.65 L369.04 70.70 L368.84 72.75 L368.49 74.80 L368.53 76.85 L369.03 78.90 L368.96 80.95 L368.61 83.00 L368.48 85.05 L368.13 87.10 L368.46 89.15 L368.20 91.20 L368.18 93.25 L368.29 95.30 L368.18 97.35 L367.68 99.40 L367.88 101.45 L368.04 103.50 L367.64 105.55 L367.72 107.60 L367.57 109.65 L367.42 111.70 L367.20 113.75 L367.75 115.80 L367.51 117.85 L367.06 119.90 L367.24 121.95 L366.96 124.00 L367.02 126.05 L366.80 128.10 L366.30 130.15 L366.38 132.20 L366.22 134.25 L366.62 136.30 L366.56 138.35 L366.03 140.40 L365.83 142.45 L365.56 144.50 L365.03 146.55 L365.03 148.60 L364.74 150.65 L364.47 152.70 L364.60 154.75 L364.49 156.80 L364.13 158.85 L364.27 160.90 L364.05 162.95 L364.42 165.00 L363.62 167.05 L363.44 169.10 L363.07 171.15 L362.77 173.20 L362.65 175.25 L362.64 177.30 L362.13 179.35 L362.15 181.40 L362.18 183.45 L361.97 185.50 L361.64 187.55 L361.45 189.60 L360.98 191.65 L360.86 193.70 L360.63 195.75 L360.19 197.80 L359.55 199.85 L358.37 201.90 L358.01 203.95 L357.49 206.00 L356.90 208.05 L356.07 210.10 L355.41 212.15 L354.55 214.20 L353.14 216.25 L351.65 218.30 L335.99 220.35 L256.00 222.40" stroke="#31688e"/>
<path d="M287.00 17.40 L332.34 19.45 L368.11 21.50 L372.19 23.55 L374.72 25.60 L376.14 27.65 L376.67 29.70 L377.01 31.75 L377.41 33.80 L377.61 35.85 L377.86 37.90 L378.30 39.95 L378.32 42.00 L378.87 44.05 L378.59 46.10 L378.38 48.15 L378.61 50.20 L378.54 52.25 L378.58 54.30 L378.61 56.35 L378.55 58.40 L378.92 60.45 L378.83 62.50 L379.01 64.55 L379.17 66.60 L379.21 68.65 L379.16 70.70 L378.86 72.75 L378.69 74.80 L378.46 76.85 L378.31 78.90 L377.73 80.95 L377.82 83.00 L377.99 85.05 L377.76 87.10 L377.96 89.15 L378.61 91.20 L378.31 93.25 L378.04 95.30 L377.94 97.35 L377.87 99.40 L377.57 101.45 L377.33 103.50 L377.05 105.55 L376.57 107.60 L376.56 109.65 L376.69 111.70 L376.44 113.75 L375.92 115.80 L376.08 117.85 L375.82 119.90 L375.69 121.95 L375.47 124.00 L375.50 126.05 L375.34 128.10 L374.85 130.15 L375.03 132.20 L375.00 134.25 L374.85 136.30 L374.23 138.35 L374.16 140.40 L373.82 142.45 L373.30 144.50 L373.52 146.55 L373.37 148.60 L373.41 150.65 L373.26 152.70 L373.37 154.75 L373.00 156.80 L372.95 158.85 L372.42 160.90 L372.63 162.95 L372.41 165.00 L372.18 167.05 L371.85 169.10 L371.64 171.15 L371.67 173.20 L371.12 175.25 L370.73 177.30 L370.37 179.35 L369.92 181.40 L369.44 183.45 L369.44 185.50 L369.47 187.55 L369.02 189.60 L368.84 191.65 L368.40 193.70 L368.35 195.75 L368.05 197.80 L367.17 199.85 L367.01 201.90 L366.02 203.95 L365.47 206.00 L364.67 208.05 L363.44 210.10 L361.92 212.15 L359.87 214.20 L357.24 216.25 L353.98 218.30 L336.93 220.35 L256.00 222.40" stroke="#287c8e"/>
<path d="M289.00 17.40 L336.99 19.45 L373.26 21.50 L377.05 23.55 L379.59 25.60 L380.88 27.65 L381.58 29.70 L381.78 31.75 L382.07 33.80 L382.24 35.85 L382.15 37.90 L382.04 39.95 L382.31 42.00 L382.72 44.05 L382.53 46.10 L382.86 48.15 L382.56 50.20 L382.35 52.25 L382.06 54.30 L382.40 56.35 L382.23 58.40 L382.27 60.45 L382.57 62.50 L382.46 64.55 L382.43 66.60 L382.56 68.65 L382.90 70.70 L382.62 72.75 L382.41 74.80 L382.17 76.85 L382.28 78.90 L382.35 80.95 L381.91 83.00 L381.88 85.05 L382.12 87.10 L382.11 89.15 L382.18 91.20 L382.13 93.25 L382.27 95.30 L382.43 97.35 L381.94 99.40 L381.41 101.45 L381.34 103.50 L381.48 105.55 L381.98 107.60 L381.07 109.65 L381.17 111.70 L381.18 113.75 L381.26 115.80 L381.24 117.85 L380.84 119.90 L380.46 121.95 L380.54 124.00 L380.68 126.05 L379.90 128.10 L379.93 130.15 L380.15 132.20 L380.17 134.25 L380.21 136.30 L380.20 138.35 L379.87 140.40 L379.83 142.45 L379.84 144.50 L379.61 146.55 L379.90 148.60 L379.45 150.65 L379.35 152.70 L379.96 154.75 L379.70 156.80 L379.50 158.85 L379.34 160.90 L378.81 162.95 L378.68 165.00 L378.22 167.05 L377.80 169.10 L377.98 171.15 L377.66 173.20 L377.33 175.25 L376.83 177.30 L376.81 179.35 L376.52 181.40 L376.72 183.45 L376.44 185.50 L376.77 187.55 L376.20 189.60 L375.75 191.65 L375.40 193.70 L375.26 195.75 L374.61 197.80 L374.20 199.85 L373.64 201.90 L373.12 203.95 L372.05 206.00 L371.34 208.05 L370.22 210.10 L368.85 212.15 L367.08 214.20 L364.94 216.25 L362.58 218.30 L342.72 220.35 L256.00 222.40" stroke="#21918c"/>
<path d="M291.00 17.40 L342.28 19.45 L379.04 21.50 L382.29 23.55 L384.52 25.60 L385.76 27.65 L386.46 29.70 L387.08 31.75 L387.39 33.80 L387.85 35.85 L388.07 37.90 L388.23 39.95 L388.13 42.00 L388.28 44.05 L387.93 46.10 L388.55 48.15 L388.40 50.20 L388.46 52.25 L388.25 54.30 L388.18 56.35 L388.02 58.40 L387.87 60.45 L387.79 62.50 L387.20 64.55 L386.97 66.60 L387.45 68.65 L387.51 70.70 L387.24 72.75 L387.08 74.80 L386.93 76.85 L386.87 78.90 L387.14 80.95 L386.65 83.00 L386.81 85.05 L386.62 87.10 L386.86 89.15 L386.85 91.20 L386.52 93.25 L386.40 95.30 L386.05 97.35 L386.41 99.40 L386.33 101.45 L386.39 103.50 L386.87 105.55 L386.61 107.60 L386.82 109.65 L386.38 111.70 L386.89 113.75 L386.43 115.80 L386.31 117.85 L386.27 119.90 L386.14 121.95 L386.00 124.00 L386.35 126.05 L385.85 128.10 L386.21 130.15 L386.34 132.20 L386.00 134.25 L385.13 136.30 L385.27 138.35 L385.02 140.40 L384.74 142.45 L384.38 144.50 L384.43 146.55 L384.63 148.60 L384.55 150.65 L384.54 152.70 L384.51 154.75 L384.40 156.80 L384.47 158.85 L384.02 160.90 L384.07 162.95 L383.47 165.00 L383.27 167.05 L383.37 169.10 L383.17 171.15 L383.44 173.20 L382.20 175.25 L382.39 177.30 L382.31 179.35 L381.77 181.40 L381.49 183.45 L381.67 185.50 L381.78 187.55 L381.05 189.60 L380.55 191.65 L380.22 193.70 L380.04 195.75 L379.80 197.80 L380.13 199.85 L379.66 201.90 L378.88 203.95 L378.09 206.00 L377.49 208.05 L376.82 210.10 L375.57 212.15 L373.85 214.20 L371.67 216.25 L369.29 218.30 L347.35 220.35 L256.00 222.40" stroke="#20a486"/>
<path d="M292.00 17.40 L346.08 19.45 L383.12 21.50 L386.30 23.55 L388.50 25.60 L389.61 27.65 L389.85 29.70 L390.18 31.75 L390.34 33.80 L390.37 35.85 L390.37 37.90 L389.65 39.95 L389.88 42.00 L390.01 44.05 L390.76 46.10 L391.71 48.15 L391.18 50.20 L391.63 52.25 L391.18 54.30 L391.02 56.35 L390.76 58.40 L391.03 60.45 L390.85 62.50 L390.77 64.55 L390.49 66.60 L390.61 68.65 L390.77 70.70 L391.44 72.75 L390.69 74.80 L390.85 76.85 L391.27 78.90 L390.82 80.95 L390.55 83.00 L390.27 85.05 L390.73 87.10 L391.11 89.15 L391.32 91.20 L390.82 93.25 L390.38 95.30 L389.89 97.35 L389.40 99.40 L389.35 101.45 L389.70 103.50 L389.76 105.55 L389.81 107.60 L389.44 109.65 L389.36 111.70 L389.23 113.75 L389.55 115.80 L389.39 117.85 L388.92 119.90 L388.91 121.95 L388.90 124.00 L388.95 126.05 L389.28 128.10 L389.14 130.15 L388.96 132.20 L388.62 134.25 L388.49 136.30 L388.22 138.35 L387.88 140.40 L387.86 142.45 L388.17 144.50 L388.62 146.55 L388.05 148.60 L387.70 150.65 L387.25 152.70 L387.13 154.75 L386.85 156.80 L386.14 158.85 L385.90 160.90 L386.02 162.95 L386.66 165.00 L386.68 167.05 L386.06 169.10 L385.89 171.15 L385.35 173.20 L384.72 175.25 L383.87 177.30 L384.07 179.35 L383.91 181.40 L383.21 183.45 L383.41 185.50 L383.41 187.55 L383.30 189.60 L383.33 191.65 L383.08 193.70 L382.31 195.75 L382.50 197.80 L381.39 199.85 L380.60 201.90 L380.25 203.95 L379.67 206.00 L378.83 208.05 L377.97 210.10 L376.91 212.15 L375.37 214.20 L373.35 216.25 L371.28 218.30 L347.55 220.35 L256.00 222.40" stroke="#35b779"/>
<path d="M294.00 17.40 L351.57 19.45 L389.13 21.50 L392.09 23.55 L393.47 25.60 L394.03 27.65 L394.15 29.70 L394.25 31.75 L394.28 33.80 L394.53 35.85 L394.66 37.90 L394.66 39.95 L394.68 42.00 L394.76 44.05 L394.40 46.10 L394.49 48.15 L394.70 50.20 L394.67 52.25 L394.18 54.30 L394.12 56.35 L393.96 58.40 L393.72 60.45 L393.98 62.50 L394.33 64.55 L394.24 66.60 L393.87 68.65 L393.99 70.70 L394.09 72.75 L394.64 74.80 L394.85 76.85 L394.85 78.90 L394.85 80.95 L394.45 83.00 L393.93 85.05 L394.01 87.10 L394.01 89.15 L393.78 91.20 L393.81 93.25 L393.78 95.30 L393.61 97.35 L393.96 99.40 L393.72 101.45 L393.86 103.50 L394.23 105.55 L394.44 107.60 L394.56 109.65 L394.60 111.70 L394.30 113.75 L393.95 115.80 L393.47 117.85 L393.37 119.90 L393.91 121.95 L393.47 124.00 L393.31 126.05 L393.57 128.10 L393.24 130.15 L392.94 132.20 L393.17 134.25 L393.30 136.30 L392.83 138.35 L392.89 140.40 L392.67 142.45 L393.42 144.50 L393.34 146.55 L393.08 148.60 L393.13 150.65 L392.87 152.70 L393.02 154.75 L392.13 156.80 L392.49 158.85 L392.24 160.90 L392.13 162.95 L392.72 165.00 L393.04 167.05 L392.86 169.10 L392.60 171.15 L392.17 173.20 L391.98 175.25 L391.33 177.30 L391.36 179.35 L391.20 181.40 L390.64 183.45 L390.05 185.50 L389.74 187.55 L389.75 189.60 L388.93 191.65 L388.31 193.70 L387.41 195.75 L387.12 197.80 L387.27 199.85 L386.36 201.90 L386.31 203.95 L385.63 206.00 L384.85 208.05 L383.92 210.10 L382.87 212.15 L381.42 214.20 L379.38 216.25 L377.08 218.30 L350.68 220.35 L256.00 222.40" stroke="#5ec962"/>
<path d="M295.00 17.40 L354.90 19.45 L392.01 21.50 L394.64 23.55 L395.87 25.60 L396.40 27.65 L396.69 29.70 L396.93 31.75 L397.08 33.80 L397.23 35.85 L397.40 37.90 L397.90 39.95 L397.03 42.00 L397.27 44.05 L397.46 46.10 L397.58 48.15 L397.81 50.20 L397.97 52.25 L398.21 54.30 L398.43 56.35 L396.95 58.40 L396.55 60.45 L396.79 62.50 L397.99 64.55 L397.53 66.60 L398.11 68.65 L398.07 70.70 L397.63 72.75 L397.59 74.80 L397.62 76.85 L397.33 78.90 L397.06 80.95 L397.19 83.00 L397.24 85.05 L397.88 87.10 L397.73 89.15 L397.32 91.20 L398.30 93.25 L397.74 95.30 L397.29 97.35 L397.38 99.40 L396.62 101.45 L395.86 103.50 L396.00 105.55 L396.81 107.60 L396.40 109.65 L396.75 111.70 L396.17 113.75 L395.97 115.80 L396.03 117.85 L395.79 119.90 L395.90 121.95 L395.76 124.00 L396.40 126.05 L396.36 128.10 L396.02 130.15 L396.38 132.20 L396.43 134.25 L396.00 136.30 L395.80 138.35 L395.79 140.40 L395.50 142.45 L396.06 144.50 L395.75 146.55 L396.07 148.60 L395.72 150.65 L395.19 152.70 L394.84 154.75 L395.41 156.80 L394.85 158.85 L395.17 160.90 L394.97 162.95 L394.28 165.00 L393.70 167.05 L393.54 169.10 L393.59 171.15 L393.62 173.20 L393.33 175.25 L393.93 177.30 L393.64 179.35 L393.38 181.40 L393.18 183.45 L392.86 185.50 L392.96 187.55 L391.92 189.60 L391.83 191.65 L391.46 193.70 L391.01 195.75 L391.22 197.80 L390.59 199.85 L389.92 201.90 L388.61 203.95 L388.96 206.00 L388.55 208.05 L388.32 210.10 L387.66 212.15 L387.33 214.20 L387.07 216.25 L386.63 218.30 L356.93 220.35 L256.00 222.40" stroke="#90d743"/>
<path d="M296.00 17.40 L357.03 19.45 L392.95 21.50 L395.41 23.55 L396.68 25.60 L397.11 27.65 L397.12 29.70 L397.15 31.75 L397.38 33.80 L397.39 35.85 L397.54 37.90 L397.01 39.95 L397.66 42.00 L398.08 44.05 L397.28 46.10 L396.97 48.15 L397.45 50.20 L396.95 52.25 L396.43 54.30 L396.23 56.35 L396.75 58.40 L397.14 60.45 L396.82 62.50 L396.46 64.55 L397.30 66.60 L397.04 68.65 L396.20 70.70 L396.28 72.75 L396.71 74.80 L396.96 76.85 L397.50 78.90 L397.11 80.95 L396.63 83.00 L396.27 85.05 L396.74 87.10 L396.80 89.15 L396.74 91.20 L396.90 93.25 L396.51 95.30 L396.46 97.35 L396.47 99.40 L396.17 101.45 L396.63 103.50 L396.43 105.55 L396.24 107.60 L396.41 109.65 L396.13 111.70 L395.48 113.75 L396.21 115.80 L395.19 117.85 L395.32 119.90 L395.92 121.95 L395.62 124.00 L395.82 126.05 L395.62 128.10 L395.87 130.15 L395.06 132.20 L395.22 134.25 L395.98 136.30 L395.49 138.35 L395.55 140.40 L395.40 142.45 L395.95 144.50 L395.04 146.55 L394.60 148.60 L394.51 150.65 L394.57 152.70 L394.53 154.75 L395.05 156.80 L394.48 158.85 L393.84 160.90 L393.70 162.95 L393.55 165.00 L394.09 167.05 L394.15 169.10 L394.63 171.15 L393.90 173.20 L393.48 175.25 L393.61 177.30 L393.64 179.35 L394.19 181.40 L393.79 183.45 L393.94 185.50 L393.16 187.55 L392.82 189.60 L392.14 191.65 L391.74 193.70 L391.69 195.75 L391.57 197.80 L391.21 199.85 L391.09 201.90 L389.89 203.95 L390.16 206.00 L390.05 208.05 L389.52 210.10 L389.41 212.15 L389.25 214.20 L389.16 216.25 L388.80 218.30 L357.04 220.35 L256.00 222.40" stroke="#c8e020"/>
<path d="M296.50 17.40 L357.06 19.45 L390.85 21.50 L393.63 23.55 L394.57 25.60 L394.97 27.65 L395.08 29.70 L395.23 31.75 L395.59 33.80 L395.67 35.85 L395.81 37.90 L396.05 39.95 L395.74 42.00 L395.51 44.05 L395.83 46.10 L395.91 48.15 L396.42 50.20 L396.38 52.25 L396.29 54.30 L396.38 56.35 L396.29 58.40 L396.05 60.45 L395.55 62.50 L395.92 64.55 L395.58 66.60 L396.01 68.65 L395.56 70.70 L395.33 72.75 L395.16 74.80 L395.15 76.85 L394.78 78.90 L394.34 80.95 L395.48 83.00 L395.04 85.05 L394.24 87.10 L394.06 89.15 L394.28 91.20 L394.01 93.25 L394.53 95.30 L394.75 97.35 L394.78 99.40 L395.70 101.45 L395.99 103.50 L395.06 105.55 L394.66 107.60 L394.70 109.65 L393.99 111.70 L394.94 113.75 L394.84 115.80 L395.56 117.85 L394.72 119.90 L394.25 121.95 L394.27 124.00 L394.60 126.05 L394.45 128.10 L395.10 130.15 L395.10 132.20 L394.77 134.25 L394.26 136.30 L393.85 138.35 L394.68 140.40 L395.96 142.45 L394.61 144.50 L395.34 146.55 L394.00 148.60 L393.50 150.65 L393.02 152.70 L393.44 154.75 L392.64 156.80 L393.15 158.85 L393.37 160.90 L393.41 162.95 L392.66 165.00 L391.87 167.05 L393.00 169.10 L393.18 171.15 L393.05 173.20 L392.84 175.25 L392.21 177.30 L392.14 179.35 L391.96 181.40 L391.50 183.45 L390.94 185.50 L391.14 187.55 L390.79 189.60 L390.29 191.65 L389.25 193.70 L388.72 195.75 L389.05 197.80 L388.49 199.85 L387.96 201.90 L387.07 203.95 L386.25 206.00 L385.80 208.05 L385.19 210.10 L384.51 212.15 L384.18 214.20 L384.01 216.25 L383.53 218.30 L351.55 220.35 L256.00 222.40" stroke="#fde725"/>
</g>
<path d="M256.00 222.40 v2.2 M289.54 222.40 v2.2 M323.08 222.40 v2.2 M356.62 222.40 v2.2 M390.16 222.40 v2.2 M423.70 222.40 v2.2 M256.00 17.40 h-2.2 M256.00 43.02 h-2.2 M256.00 68.65 h-2.2 M256.00 94.28 h-2.2 M256.00 119.90 h-2.2 M256.00 145.53 h-2.2 M256.00 171.15 h-2.2 M256.00 196.78 h-2.2 M256.00 222.40 h-2.2" stroke="#2b2b2b" stroke-width="0.55" fill="none"/>
<rect x="256.00" y="17.40" width="167.70" height="205.00" fill="none" stroke="#2b2b2b" stroke-width="0.55"/>
<text x="256.00" y="234.70" font-size="10.20" text-anchor="middle" fill="#000000">0.00</text>
<text x="289.54" y="234.70" font-size="10.20" text-anchor="middle" fill="#000000">0.05</text>
<text x="323.08" y="234.70" font-size="10.20" text-anchor="middle" fill="#000000">0.10</text>
<text x="356.62" y="234.70" font-size="10.20" text-anchor="middle" fill="#000000">0.15</text>
<text x="390.16" y="234.70" font-size="10.20" text-anchor="middle" fill="#000000">0.20</text>
<text x="423.70" y="234.70" font-size="10.20" text-anchor="middle" fill="#000000">0.25</text>
<text x="252.00" y="21.90" font-size="10.20" text-anchor="end" fill="#000000">2.00</text>
<text x="252.00" y="47.52" font-size="10.20" text-anchor="end" fill="#000000">1.75</text>
<text x="252.00" y="73.15" font-size="10.20" text-anchor="end" fill="#000000">1.50</text>
<text x="252.00" y="98.78" font-size="10.20" text-anchor="end" fill="#000000">1.25</text>
<text x="252.00" y="124.40" font-size="10.20" text-anchor="end" fill="#000000">1.00</text>
<text x="252.00" y="150.03" font-size="10.20" text-anchor="end" fill="#000000">0.75</text>
<text x="252.00" y="175.65" font-size="10.20" text-anchor="end" fill="#000000">0.50</text>
<text x="252.00" y="201.28" font-size="10.20" text-anchor="end" fill="#000000">0.25</text>
<text x="252.00" y="226.90" font-size="10.20" text-anchor="end" fill="#000000">0.00</text>
<text x="339.85" y="13.80" font-size="11.25" text-anchor="middle" fill="#000000">Seoul</text>
<text x="339.85" y="250.80" font-size="12.60" text-anchor="middle" fill="#000000">Mean <tspan font-style="italic">q</tspan><tspan font-style="italic" font-size="8.82" dy="2.0">c</tspan><tspan dy="-2.0"> (g kg</tspan><tspan font-size="8.82" dy="-4.8">−1</tspan><tspan dy="4.8">)</tspan></text>
<text transform="translate(15.00 119.90) rotate(-90)" font-size="12.60" text-anchor="middle" fill="#000000">Height (m)</text>
<rect x="438.30" y="17.40" width="8.70" height="205.00" fill="#440154"/>
<rect x="438.30" y="17.40" width="8.70" height="189.23" fill="#481f70"/>
<rect x="438.30" y="17.40" width="8.70" height="173.46" fill="#443983"/>
<rect x="438.30" y="17.40" width="8.70" height="157.69" fill="#3b528b"/>
<rect x="438.30" y="17.40" width="8.70" height="141.92" fill="#31688e"/>
<rect x="438.30" y="17.40" width="8.70" height="126.15" fill="#287c8e"/>
<rect x="438.30" y="17.40" width="8.70" height="110.38" fill="#21918c"/>
<rect x="438.30" y="17.40" width="8.70" height="94.62" fill="#20a486"/>
<rect x="438.30" y="17.40" width="8.70" height="78.85" fill="#35b779"/>
<rect x="438.30" y="17.40" width="8.70" height="63.08" fill="#5ec962"/>
<rect x="438.30" y="17.40" width="8.70" height="47.31" fill="#90d743"/>
<rect x="438.30" y="17.40" width="8.70" height="31.54" fill="#c8e020"/>
<rect x="438.30" y="17.40" width="8.70" height="15.77" fill="#fde725"/>
<rect x="438.30" y="17.40" width="8.70" height="205.00" fill="none" stroke="#2b2b2b" stroke-width="0.55"/>
<text x="451.00" y="218.92" font-size="10.20" text-anchor="start" fill="#000000">60</text>
<text x="451.00" y="203.15" font-size="10.20" text-anchor="start" fill="#000000">80</text>
<text x="451.00" y="192.63" font-size="10.20" text-anchor="start" fill="#000000">100</text>
<text x="451.00" y="174.24" font-size="10.20" text-anchor="start" fill="#000000">200</text>
<text x="451.00" y="155.84" font-size="10.20" text-anchor="start" fill="#000000">400</text>
<text x="451.00" y="140.07" font-size="10.20" text-anchor="start" fill="#000000">600</text>
<text x="451.00" y="124.30" font-size="10.20" text-anchor="start" fill="#000000">800</text>
<text x="451.00" y="113.79" font-size="10.20" text-anchor="start" fill="#000000">1000</text>
<text x="451.00" y="95.39" font-size="10.20" text-anchor="start" fill="#000000">2000</text>
<text x="451.00" y="76.99" font-size="10.20" text-anchor="start" fill="#000000">4000</text>
<text x="451.00" y="61.22" font-size="10.20" text-anchor="start" fill="#000000">6000</text>
<text x="451.00" y="45.45" font-size="10.20" text-anchor="start" fill="#000000">8000</text>
<text x="451.00" y="29.68" font-size="10.20" text-anchor="start" fill="#000000">10<tspan dx="1.4">000</tspan></text>
<path d="M447.00 214.52 h2.2 M447.00 198.75 h2.2 M447.00 188.23 h2.2 M447.00 169.84 h2.2 M447.00 151.44 h2.2 M447.00 135.67 h2.2 M447.00 119.90 h2.2 M447.00 109.39 h2.2 M447.00 90.99 h2.2 M447.00 72.59 h2.2 M447.00 56.82 h2.2 M447.00 41.05 h2.2 M447.00 25.28 h2.2" stroke="#2b2b2b" stroke-width="0.55" fill="none"/>
<text transform="translate(493.80 119.90) rotate(-90)" font-size="10.45" text-anchor="middle" fill="#000000">Aerosol Concentration (#/cm³)</text>
<path d="M104.69 272.58 L100.14 281.68 L109.24 281.68 Z" fill="#440154"/>
<path d="M122.66 316.85 L118.11 325.95 L127.21 325.95 Z" fill="#481f70"/>
<path d="M136.60 364.59 L132.05 373.69 L141.15 373.69 Z" fill="#443983"/>
<path d="M179.90 334.21 L175.35 343.31 L184.45 343.31 Z" fill="#3b528b"/>
<path d="M223.21 421.66 L218.66 430.76 L227.76 430.76 Z" fill="#31688e"/>
<path d="M248.54 455.08 L243.99 464.18 L253.09 464.18 Z" fill="#287c8e"/>
<path d="M266.51 468.10 L261.96 477.20 L271.06 477.20 Z" fill="#21918c"/>
<path d="M280.45 512.15 L275.90 521.25 L285.00 521.25 Z" fill="#20a486"/>
<path d="M323.75 504.12 L319.20 513.22 L328.30 513.22 Z" fill="#35b779"/>
<path d="M367.06 505.64 L362.51 514.74 L371.61 514.74 Z" fill="#5ec962"/>
<path d="M392.39 505.64 L387.84 514.74 L396.94 514.74 Z" fill="#90d743"/>
<path d="M410.36 521.48 L405.81 530.58 L414.91 530.58 Z" fill="#c8e020"/>
<path d="M424.30 524.30 L419.75 533.40 L428.85 533.40 Z" fill="#fde725"/>
<circle cx="104.69" cy="324.95" r="4.40" fill="#440154"/>
<circle cx="122.66" cy="366.19" r="4.40" fill="#481f70"/>
<circle cx="136.60" cy="403.07" r="4.40" fill="#443983"/>
<circle cx="179.90" cy="358.59" r="4.40" fill="#3b528b"/>
<circle cx="223.21" cy="448.86" r="4.40" fill="#31688e"/>
<circle cx="248.54" cy="421.52" r="4.40" fill="#287c8e"/>
<circle cx="266.51" cy="477.07" r="4.40" fill="#21918c"/>
<circle cx="280.45" cy="501.38" r="4.40" fill="#20a486"/>
<circle cx="323.75" cy="490.96" r="4.40" fill="#35b779"/>
<circle cx="367.06" cy="472.95" r="4.40" fill="#5ec962"/>
<circle cx="392.39" cy="551.07" r="4.40" fill="#90d743"/>
<circle cx="410.36" cy="543.47" r="4.40" fill="#c8e020"/>
<circle cx="424.30" cy="501.59" r="4.40" fill="#fde725"/>
<path d="M93.30 263.50 V564.50 M104.69 263.50 V564.50 M114.32 263.50 V564.50 M122.66 263.50 V564.50 M130.02 263.50 V564.50 M179.90 263.50 V564.50 M205.23 263.50 V564.50 M223.21 263.50 V564.50 M237.15 263.50 V564.50 M248.54 263.50 V564.50 M258.17 263.50 V564.50 M266.51 263.50 V564.50 M273.87 263.50 V564.50 M323.75 263.50 V564.50 M349.08 263.50 V564.50 M367.06 263.50 V564.50 M381.00 263.50 V564.50 M392.39 263.50 V564.50 M402.02 263.50 V564.50 M410.36 263.50 V564.50 M417.72 263.50 V564.50 M136.60 263.50 V564.50 M280.45 263.50 V564.50 M424.30 263.50 V564.50 M88.50 560.85 H440.50 M88.50 517.45 H440.50 M88.50 474.05 H440.50 M88.50 430.65 H440.50 M88.50 387.25 H440.50 M88.50 343.85 H440.50 M88.50 300.45 H440.50" stroke="#b0b0b0" stroke-width="0.7" stroke-dasharray="1.35 1.05" fill="none" opacity="0.68"/>
<path d="M136.60 564.50 v2.2 M280.45 564.50 v2.2 M424.30 564.50 v2.2 M93.30 564.50 v1.3 M104.69 564.50 v1.3 M114.32 564.50 v1.3 M122.66 564.50 v1.3 M130.02 564.50 v1.3 M179.90 564.50 v1.3 M205.23 564.50 v1.3 M223.21 564.50 v1.3 M237.15 564.50 v1.3 M248.54 564.50 v1.3 M258.17 564.50 v1.3 M266.51 564.50 v1.3 M273.87 564.50 v1.3 M323.75 564.50 v1.3 M349.08 564.50 v1.3 M367.06 564.50 v1.3 M381.00 564.50 v1.3 M392.39 564.50 v1.3 M402.02 564.50 v1.3 M410.36 564.50 v1.3 M417.72 564.50 v1.3 M88.50 560.85 h-2.2 M88.50 517.45 h-2.2 M88.50 474.05 h-2.2 M88.50 430.65 h-2.2 M88.50 387.25 h-2.2 M88.50 343.85 h-2.2 M88.50 300.45 h-2.2" stroke="#2b2b2b" stroke-width="0.55" fill="none"/>
<rect x="88.50" y="263.50" width="352.00" height="301.00" fill="none" stroke="#000000" stroke-width="0.70"/>
<text x="84.50" y="565.35" font-size="10.20" text-anchor="end" fill="#000000">2</text>
<text x="84.50" y="521.95" font-size="10.20" text-anchor="end" fill="#000000">4</text>
<text x="84.50" y="478.55" font-size="10.20" text-anchor="end" fill="#000000">6</text>
<text x="84.50" y="435.15" font-size="10.20" text-anchor="end" fill="#000000">8</text>
<text x="84.50" y="391.75" font-size="10.20" text-anchor="end" fill="#000000">10</text>
<text x="84.50" y="348.35" font-size="10.20" text-anchor="end" fill="#000000">12</text>
<text x="84.50" y="304.95" font-size="10.20" text-anchor="end" fill="#000000">14</text>
<text x="136.60" y="577.80" font-size="10.20" text-anchor="middle" fill="#000000">10<tspan font-size="7.70" dy="-4.4">2</tspan></text>
<text x="280.45" y="577.80" font-size="10.20" text-anchor="middle" fill="#000000">10<tspan font-size="7.70" dy="-4.4">3</tspan></text>
<text x="424.30" y="577.80" font-size="10.20" text-anchor="middle" fill="#000000">10<tspan font-size="7.70" dy="-4.4">4</tspan></text>
<text x="264.50" y="593.60" font-size="12.30" text-anchor="middle" fill="#000000">Aerosol Concentration (cm<tspan font-size="8.61" dy="-4.8">−3</tspan><tspan dy="4.8">)</tspan></text>
<text transform="translate(64.00 414.00) rotate(-90)" font-size="12.30" text-anchor="middle" fill="#000000"><tspan font-style="italic">Δq</tspan><tspan font-style="italic" font-size="8.61" dy="2.0">c</tspan><tspan dy="-2.0"> (%)</tspan></text>
<rect x="356.4" y="267.4" width="80.6" height="35.6" rx="1.6" fill="#ffffff" fill-opacity="0.8" stroke="#cccccc" stroke-width="0.7"/>
<text x="396.70" y="276.20" font-size="7.55" text-anchor="middle" fill="#000000">Aerosol distribution</text>
<path d="M378.40 281.40 L374.80 288.60 L382.00 288.60 Z" fill="#ffffff" stroke="#1a1a1a" stroke-width="0.7"/>
<circle cx="378.4" cy="296.4" r="3.6" fill="#ffffff" stroke="#1a1a1a" stroke-width="0.7"/>
<text x="392.00" y="287.60" font-size="7.55" text-anchor="start" fill="#000000">VOCALS</text>
<text x="392.00" y="299.00" font-size="7.55" text-anchor="start" fill="#000000">Seoul</text>
</svg>
</body></html>
